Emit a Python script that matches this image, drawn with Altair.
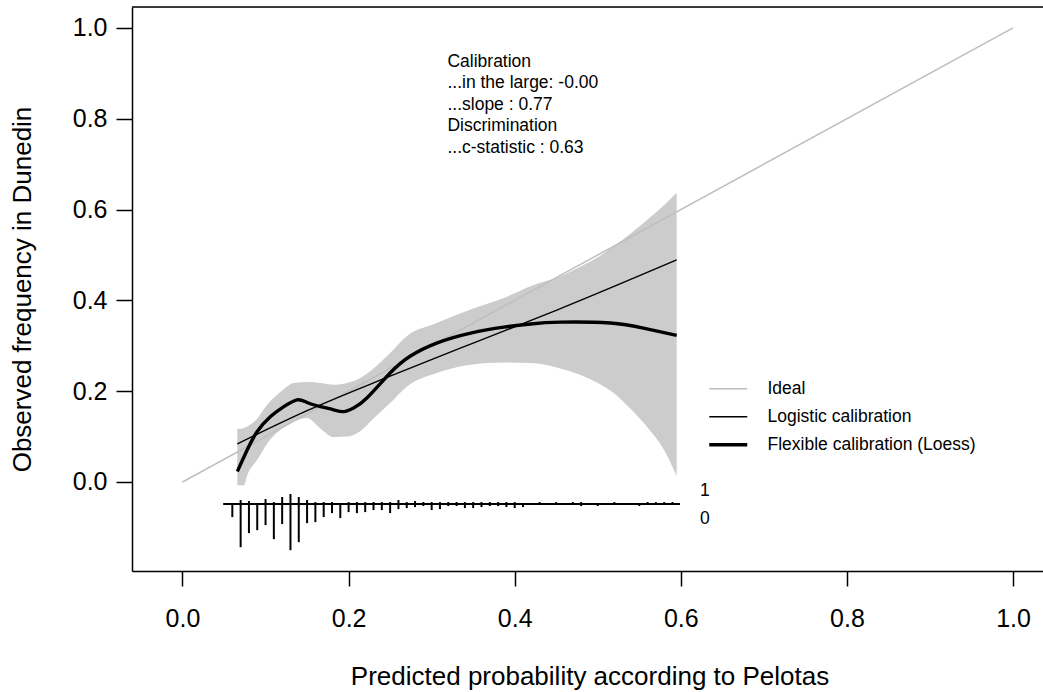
import altair as alt
import pandas as pd

FONT = "Liberation Sans"

# ---------------- data ----------------
ideal_x = [0.0, 1.0]
ideal_y = [0.0, 1.0]

logistic_x = [0.066, 0.15, 0.25, 0.35, 0.45, 0.595]
logistic_y = [0.084, 0.157, 0.233, 0.306, 0.378, 0.489]

loess_x = [0.066, 0.078, 0.090, 0.106, 0.122, 0.138, 0.150, 0.166, 0.182, 0.194,
           0.206, 0.222, 0.250, 0.274, 0.306, 0.347, 0.387, 0.419, 0.455, 0.515,
           0.555, 0.595]
loess_y = [0.023, 0.071, 0.111, 0.144, 0.166, 0.181, 0.175, 0.166, 0.159, 0.155,
           0.163, 0.185, 0.240, 0.277, 0.306, 0.328, 0.341, 0.348, 0.352, 0.350,
           0.339, 0.323]

band_x = [0.066, 0.074, 0.078, 0.090, 0.102, 0.118, 0.134, 0.150, 0.166, 0.182,
          0.198, 0.214, 0.230, 0.250, 0.270, 0.306, 0.347, 0.387, 0.419, 0.455,
          0.480, 0.500, 0.520, 0.540, 0.560, 0.580, 0.595]
band_lo = [-0.007, -0.007, 0.015, 0.049, 0.085, 0.115, 0.133, 0.141, 0.118, 0.099,
           0.100, 0.112, 0.140, 0.174, 0.210, 0.240, 0.258, 0.263, 0.262, 0.250,
           0.235, 0.218, 0.195, 0.160, 0.120, 0.070, 0.013]
band_hi = [0.117, 0.119, 0.122, 0.140, 0.170, 0.198, 0.218, 0.220, 0.218, 0.214,
           0.218, 0.229, 0.250, 0.284, 0.321, 0.350, 0.380, 0.405, 0.431, 0.453,
           0.475, 0.495, 0.520, 0.548, 0.578, 0.610, 0.637]

# distribution of predictions (spikes): bins, counts of outcome 1 (up) and 0 (down)
spike_bins = [0.06, 0.07, 0.08, 0.09, 0.10, 0.11, 0.12, 0.13, 0.14, 0.15,
              0.16, 0.17, 0.18, 0.19, 0.20, 0.21, 0.22, 0.23, 0.24, 0.25,
              0.26, 0.27, 0.28, 0.29, 0.30, 0.31, 0.32, 0.33, 0.34, 0.35,
              0.36, 0.37, 0.38, 0.39, 0.40, 0.41, 0.43, 0.45, 0.47, 0.48,
              0.50, 0.52, 0.55, 0.56, 0.57, 0.58, 0.59]
spike_n1 = [0, 4, 3, 0, 5, 2, 7, 10, 7, 4,
            2, 2, 2, 0, 2, 2, 2, 2, 2, 2,
            4, 2, 3, 2, 2, 2, 2, 2, 2, 2,
            2, 2, 2, 2, 2, 0, 2, 2, 2, 2,
            0, 2, 0, 2, 2, 2, 2]
spike_n0 = [13, 43, 29, 26, 21, 35, 20, 46, 38, 19,
            18, 13, 9, 14, 8, 9, 8, 6, 6, 9,
            5, 4, 3, 2, 6, 5, 2, 2, 4, 4,
            3, 2, 2, 3, 4, 3, 0, 0, 0, 2,
            2, 0, 2, 0, 0, 0, 0]

series_names = ["Ideal", "Logistic calibration", "Flexible calibration (Loess)"]
series_colors = ["#BEBEBE", "#000000", "#000000"]
series_widths = [1.5, 1.4, 3.4]

stats_text = ("Calibration\n...in the large: -0.00\n...slope : 0.77\n"
              "Discrimination\n...c-statistic : 0.63")

# ---------------- tables ----------------
ideal_df = pd.DataFrame({"x": ideal_x, "y": ideal_y, "series": series_names[0]})
logi_df = pd.DataFrame({"x": logistic_x, "y": logistic_y, "series": series_names[1]})
loess_df = pd.DataFrame({"x": loess_x, "y": loess_y, "series": series_names[2]})
band_df = pd.DataFrame({"x": band_x, "lo": band_lo, "hi": band_hi})

BASE = -0.0486            # y of the spike baseline
PER_COUNT = 1.0 / 453.0   # spike length per count (y units)
spk = pd.DataFrame({"x": spike_bins, "n1": spike_n1, "n0": spike_n0})
spk["base"] = BASE
spk["up"] = BASE + spk["n1"] * PER_COUNT
spk["down"] = BASE - spk["n0"] * PER_COUNT
base_df = pd.DataFrame({"x": [min(spike_bins) - 0.011], "x2": [max(spike_bins) + 0.009],
                        "y": [BASE]})
lab_df = pd.DataFrame({"t": ["1", "0"],
                       "x": [max(spike_bins) + 0.033] * 2,
                       "y": [BASE + 0.029, BASE - 0.032]})

# ---------------- scales / axes ----------------
XDOM = [-0.0608, 1.0361]
YDOM = [-0.196, 1.046]
W, H = 911, 564

xscale = alt.Scale(domain=XDOM, nice=False, zero=False)
yscale = alt.Scale(domain=YDOM, nice=False, zero=False)

ticks = [0.0, 0.2, 0.4, 0.6, 0.8, 1.0]
xaxis = alt.Axis(values=ticks, format=".1f", grid=False, tickSize=15, tickWidth=1.5,
                 tickColor="black", domainColor="black", domainWidth=1.5,
                 labelFontSize=25, labelFont=FONT, labelColor="black", labelPadding=20,
                 title="Predicted probability according to Pelotas",
                 titleFontSize=26, titleFont=FONT, titleFontWeight="normal",
                 titleColor="black", titleX=457.5, titleY=105, titleBaseline="middle",
                 titleAlign="center")
yaxis = alt.Axis(values=ticks, format=".1f", grid=False, tickSize=16, tickWidth=1.5,
                 tickColor="black", domainColor="black", domainWidth=1.5,
                 labelFontSize=25, labelFont=FONT, labelColor="black", labelPadding=9,
                 title="Observed frequency in Dunedin",
                 titleFontSize=26, titleFont=FONT, titleFontWeight="normal",
                 titleColor="black", titleX=-110, titleY=282, titleBaseline="middle",
                 titleAlign="center")

color_scale = alt.Scale(domain=series_names, range=series_colors)
width_expr = ("datum.value == '%s' ? %s : (datum.value == '%s' ? %s : %s)"
              % (series_names[2], series_widths[2], series_names[1],
                 series_widths[1], series_widths[0]))
legend = alt.Legend(orient="none", legendX=587.5, legendY=373, title=None,
                    symbolType="M-2,0L2,0", symbolSize=361, labelFontSize=17.5,
                    labelFont=FONT, labelColor="black", labelOffset=30.5,
                    rowPadding=9, padding=0, labelLimit=0,
                    symbolFillColor="transparent",
                    symbolStrokeWidth={"expr": width_expr})

# ---------------- layers ----------------
band = alt.Chart(band_df).mark_area(color="#CCCCCC", interpolate="monotone").encode(
    x=alt.X("x:Q", scale=xscale, axis=xaxis),
    y=alt.Y("lo:Q", scale=yscale, axis=yaxis),
    y2="hi:Q",
)

def line_layer(df, interp, sw):
    return alt.Chart(df).mark_line(interpolate=interp, strokeCap="butt",
                                   strokeWidth=sw).encode(
        x=alt.X("x:Q", scale=xscale),
        y=alt.Y("y:Q", scale=yscale),
        color=alt.Color("series:N", scale=color_scale, legend=legend),
    )

ideal = line_layer(ideal_df, "linear", series_widths[0])
logi = line_layer(logi_df, "monotone", series_widths[1])
loess = line_layer(loess_df, "natural", series_widths[2])

baseline = alt.Chart(base_df).mark_rule(color="black", strokeWidth=2).encode(
    x=alt.X("x:Q", scale=xscale), x2="x2:Q", y=alt.Y("y:Q", scale=yscale))
up = alt.Chart(spk).mark_rule(color="black", strokeWidth=2).encode(
    x=alt.X("x:Q", scale=xscale), y=alt.Y("base:Q", scale=yscale), y2="up:Q")
down = alt.Chart(spk).mark_rule(color="black", strokeWidth=2).encode(
    x=alt.X("x:Q", scale=xscale), y=alt.Y("base:Q", scale=yscale), y2="down:Q")
labels01 = alt.Chart(lab_df).mark_text(align="left", baseline="middle", fontSize=17.5,
                                       font=FONT, color="black").encode(
    x=alt.X("x:Q", scale=xscale), y=alt.Y("y:Q", scale=yscale), text="t:N")

stats = alt.Chart(pd.DataFrame({"t": [stats_text]})).mark_text(
    align="left", baseline="middle", fontSize=17.5, font=FONT, color="black",
    lineBreak="\n", lineHeight=21.5).encode(
    x=alt.datum(0.319), y=alt.datum(0.925), text="t:N")

top_border = alt.Chart(pd.DataFrame({"k": [0]})).mark_rule(
    color="black", strokeWidth=1.5).encode(
    x=alt.value(0), x2=alt.value(W), y=alt.value(0))

chart = alt.layer(band, ideal, logi, loess, baseline, up, down, labels01, stats,
                  top_border).properties(
    width=W, height=H,
    autosize=alt.AutoSizeParams(type="none"),
    padding={"left": 132, "top": 7, "right": 0, "bottom": 121},
).configure_view(stroke=None).configure(background="white")

chart.save("out.html", embed_options={"renderer": "svg", "actions": False})
